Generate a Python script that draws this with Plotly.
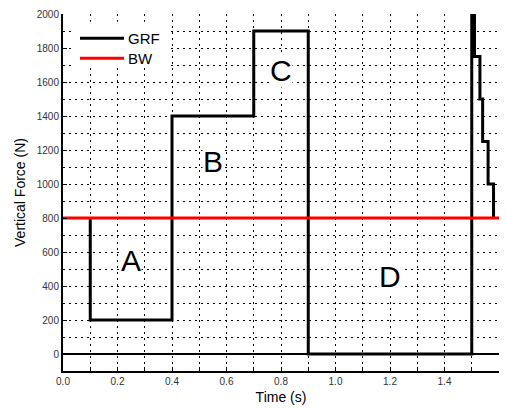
import plotly.graph_objects as go

# GRF step data (time of change, force level)
grf_time = [0.1, 0.1, 0.4, 0.7, 0.9, 1.5, 1.51, 1.53, 1.54, 1.56, 1.58]
grf_force = [800, 200, 1400, 1900, 0, 2000, 1750, 1500, 1250, 1000, 800]

# body weight line
bw_time = [0.0, 1.6]
bw_force = [800, 800]

# phase labels
label_text = ["A", "B", "C", "D"]
label_x = [0.25, 0.55, 0.8, 1.2]
label_y = [550, 1130, 1665, 455]

x_ticks = [0.0, 0.2, 0.4, 0.6, 0.8, 1.0, 1.2, 1.4, 1.6]
x_ticklabels = ["0.0", "0.2", "0.4", "0.6", "0.8", "1.0", "1.2", "1.4", "1.6"]
y_ticks = [0, 200, 400, 600, 800, 1000, 1200, 1400, 1600, 1800, 2000]

series_names = ["GRF", "BW"]
series_colors = ["black", "#ff0000"]

FONT = "Liberation Sans, Arial, sans-serif"

fig = go.Figure()
fig.add_trace(go.Scatter(x=grf_time, y=grf_force, mode="lines", name=series_names[0],
                         line=dict(color=series_colors[0], width=3, shape="hv")))
fig.add_trace(go.Scatter(x=bw_time, y=bw_force, mode="lines", name=series_names[1],
                         line=dict(color=series_colors[1], width=3)))

for t, x, y in zip(label_text, label_x, label_y):
    fig.add_annotation(x=x, y=y, text=t, showarrow=False, bgcolor="white",
                       borderpad=0, font=dict(family=FONT, size=30, color="black"))

# legend (drawn in paper coordinates to match the long sample lines)
fig.add_shape(type="rect", xref="paper", yref="paper", x0=0.021, x1=0.241, y0=0.849, y1=0.978,
              fillcolor="white", line=dict(width=0), layer="above")
legend_y = [0.932, 0.876]
for name, color, ly in zip(series_names, series_colors, legend_y):
    fig.add_shape(type="line", xref="paper", yref="paper", x0=0.039, x1=0.140, y0=ly, y1=ly,
                  line=dict(color=color, width=3), layer="above")
    fig.add_annotation(xref="paper", yref="paper", x=0.145, y=ly, text=name, showarrow=False,
                       xanchor="left", yanchor="middle",
                       font=dict(family=FONT, size=15, color="black"))

grid_common = dict(showgrid=True, gridcolor="black", gridwidth=1, griddash="2px,4px")

fig.update_xaxes(range=[0, 1.6], tickvals=x_ticks, ticktext=x_ticklabels,
                 ticks="inside", ticklen=4, tickcolor="black",
                 showline=True, linecolor="black", linewidth=2,
                 zeroline=False, automargin=False,
                 tickfont=dict(family=FONT, size=10, color="#333"),
                 title=dict(text="Time (s)", font=dict(family=FONT, size=14, color="black"), standoff=6),
                 minor=dict(dtick=0.1, tick0=0, ticks="inside", ticklen=4, tickcolor="black", **grid_common),
                 **grid_common)
fig.update_yaxes(range=[-100, 2000], tickvals=y_ticks,
                 ticks="inside", ticklen=4, tickcolor="black",
                 showline=True, linecolor="black", linewidth=2,
                 zeroline=True, zerolinecolor="black", zerolinewidth=1.5,
                 automargin=False,
                 tickfont=dict(family=FONT, size=10, color="#333"),
                 title=dict(text="Vertical Force (N)", font=dict(family=FONT, size=14, color="black"), standoff=8),
                 minor=dict(dtick=100, tick0=0, ticks="", **grid_common),
                 **grid_common)

fig.update_layout(
    width=506, height=408,
    margin=dict(l=63, r=7, t=14, b=37),
    paper_bgcolor="white", plot_bgcolor="white",
    showlegend=False,
    font=dict(family=FONT),
)

fig.write_html("out.html", config={"displayModeBar": False},
               post_script="document.body.style.margin='0';document.body.style.padding='0';document.body.style.overflow='hidden';")
